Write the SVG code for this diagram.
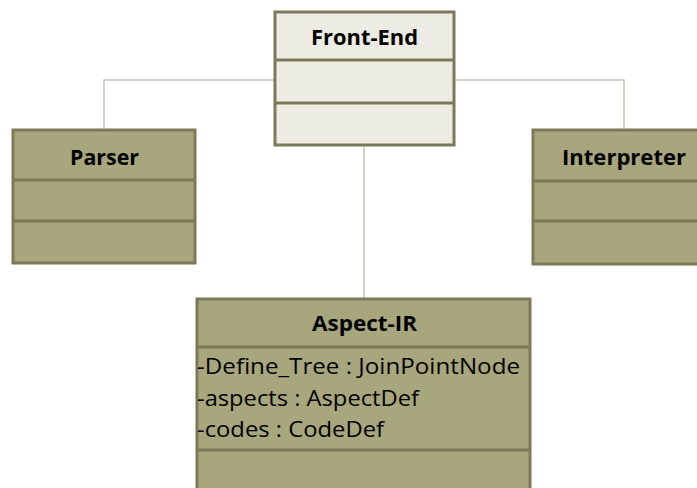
<svg xmlns="http://www.w3.org/2000/svg" width="697" height="488" viewBox="0 0 697 488">
<style>
.box{stroke:#7a7a58;stroke-width:3}
.light{fill:#ecece4}
.dark{fill:#a8a67c}
.div{stroke:#7a7a58;stroke-width:3}
.conn{fill:none;stroke:#c4c4b4;stroke-width:1.5}
.title{font-family:"Open Sans","Liberation Sans",sans-serif;font-weight:bold;font-size:21px;fill:#000}
.attr{font-family:"Open Sans","Liberation Sans",sans-serif;font-size:21px;fill:#000}
</style>
<rect width="697" height="488" fill="#ffffff"/>
<g id="connectors">
<polyline class="conn" points="275,80 104,80 104,130"/>
<polyline class="conn" points="454,80 624,80 624,130"/>
<line class="conn" x1="364" y1="145" x2="364" y2="299"/>
</g>
<g id="front-end">
<rect class="box light" x="275" y="12" width="179" height="133"/>
<line class="div" x1="275" y1="60" x2="454" y2="60"/>
<line class="div" x1="275" y1="103" x2="454" y2="103"/>
<text class="title" x="311" y="45" textLength="107" lengthAdjust="spacingAndGlyphs">Front-End</text>
</g>
<g id="parser">
<rect class="box dark" x="13" y="130" width="182" height="133"/>
<line class="div" x1="13" y1="180" x2="195" y2="180"/>
<line class="div" x1="13" y1="221" x2="195" y2="221"/>
<text class="title" x="70" y="165" textLength="69" lengthAdjust="spacingAndGlyphs">Parser</text>
</g>
<g id="interpreter">
<rect class="box dark" x="533" y="130" width="166" height="134"/>
<line class="div" x1="533" y1="181" x2="699" y2="181"/>
<line class="div" x1="533" y1="221" x2="699" y2="221"/>
<text class="title" x="562" y="165" textLength="124" lengthAdjust="spacingAndGlyphs">Interpreter</text>
</g>
<g id="aspect-ir">
<rect class="box dark" x="197" y="299" width="333" height="195"/>
<line class="div" x1="197" y1="347" x2="530" y2="347"/>
<line class="div" x1="197" y1="450" x2="530" y2="450"/>
<text class="title" x="312" y="331" textLength="105" lengthAdjust="spacingAndGlyphs">Aspect-IR</text>
<text class="attr" x="197" y="374" textLength="323" lengthAdjust="spacingAndGlyphs">-Define_Tree : JoinPointNode</text>
<text class="attr" x="197" y="406" textLength="222" lengthAdjust="spacingAndGlyphs">-aspects : AspectDef</text>
<text class="attr" x="197" y="437" textLength="187" lengthAdjust="spacingAndGlyphs">-codes : CodeDef</text>
</g>
</svg>
